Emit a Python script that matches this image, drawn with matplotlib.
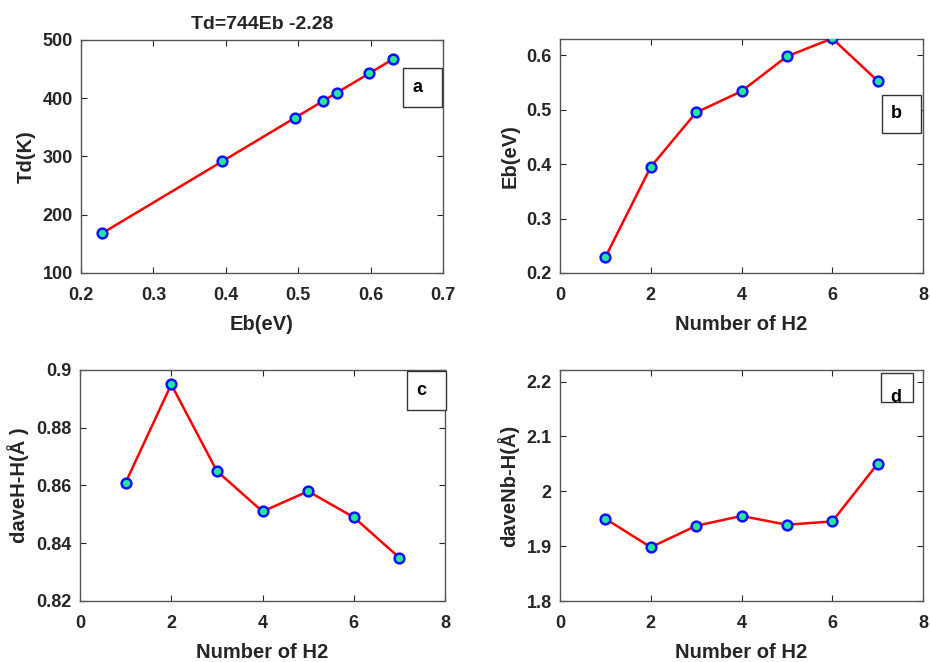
import matplotlib
matplotlib.use("Agg")
import matplotlib.pyplot as plt
from matplotlib.patches import Rectangle

plt.rcParams['font.family'] = ['Liberation Sans', 'DejaVu Sans']
plt.rcParams['font.weight'] = 'bold'

n_h2 = [1, 2, 3, 4, 5, 6, 7]
eb = [0.229, 0.395, 0.495, 0.534, 0.553, 0.598, 0.631]
eb_b = [0.229, 0.395, 0.495, 0.534, 0.598, 0.631, 0.553]
td = [168.1, 291.6, 366.0, 395.0, 409.2, 442.6, 467.2]
d_hh = [0.861, 0.895, 0.865, 0.851, 0.858, 0.849, 0.835]
d_nbh = [1.950, 1.898, 1.937, 1.955, 1.939, 1.945, 2.050]

W, H = 930, 662
fig = plt.figure(figsize=(W / 100, H / 100), dpi=100)
TXT = '#262626'
TICK_FS = 13
LAB_FS = 14.5


def px_axes(l, t, r, b):
    return fig.add_axes([l / W, (H - b) / H, (r - l) / W, (b - t) / H])


def style(ax):
    for s in ax.spines.values():
        s.set_color('#555555')
        s.set_linewidth(1.0)
    ax.tick_params(direction='in', top=True, right=True, length=4,
                   labelsize=TICK_FS, colors=TXT, width=0.8)
    ax.tick_params(axis='x', pad=10)
    ax.tick_params(axis='y', pad=6)
    for lab in ax.get_xticklabels() + ax.get_yticklabels():
        lab.set_fontweight('bold')


def labels(ax, xl, yl):
    ax.set_xlabel(xl, fontsize=LAB_FS, fontweight='bold', color=TXT, labelpad=8)
    ax.set_ylabel(yl, fontsize=LAB_FS, fontweight='bold', color=TXT, labelpad=5)


def plot(ax, x, y):
    ax.plot(x, y, '-', color='red', lw=1.8, marker='o', ms=7,
            mfc='#22E89A', mec='#1010FF', mew=1.8, zorder=3)


def box_label(l, t, r, b, s, ty=None, clip=False):
    rect = Rectangle((l / W, (H - b) / H), (r - l) / W, (b - t) / H,
                     transform=fig.transFigure, fill=True,
                     facecolor='white', edgecolor='#333333', lw=1.0,
                     zorder=5)
    fig.add_artist(rect)
    yy = (t + b) / 2 if ty is None else ty
    txt = fig.text((l + 9) / W, (H - yy) / H, s, fontsize=13, fontweight='bold',
                   color='black', ha='left', va='center', zorder=6)
    if clip:
        txt.set_clip_path(rect)
        txt.set_clip_on(True)


# a
ax = px_axes(81, 40, 443, 273)
plot(ax, eb, td)
ax.set_xlim(0.2, 0.7)
ax.set_ylim(100, 500)
ax.set_xticks([0.2, 0.3, 0.4, 0.5, 0.6, 0.7])
ax.set_yticks([100, 200, 300, 400, 500])
labels(ax, 'Eb(eV)', 'Td(K)')
ax.set_title('Td=744Eb -2.28', fontsize=14, fontweight='bold', color=TXT, pad=8)
style(ax)

# b
ax = px_axes(560, 39, 923, 273)
plot(ax, n_h2, eb_b)
ax.set_xlim(0, 8)
ax.set_ylim(0.2, 0.63)
ax.set_xticks([0, 2, 4, 6, 8])
ax.set_yticks([0.2, 0.3, 0.4, 0.5, 0.6])
labels(ax, 'Number of H2', 'Eb(eV)')
style(ax)

# c
ax = px_axes(80, 370, 445, 601)
plot(ax, n_h2, d_hh)
ax.set_xlim(0, 8)
ax.set_ylim(0.82, 0.9)
ax.set_xticks([0, 2, 4, 6, 8])
ax.set_yticks([0.82, 0.84, 0.86, 0.88, 0.9])
ax.set_yticklabels(['0.82', '0.84', '0.86', '0.88', '0.9'])
labels(ax, 'Number of H2', 'daveH-H(Å )')
style(ax)

# d
ax = px_axes(560, 370, 923, 601)
plot(ax, n_h2, d_nbh)
ax.set_xlim(0, 8)
ax.set_ylim(1.8, 2.221)
ax.set_xticks([0, 2, 4, 6, 8])
ax.set_yticks([1.8, 1.9, 2.0, 2.1, 2.2])
ax.set_yticklabels(['1.8', '1.9', '2', '2.1', '2.2'])
labels(ax, 'Number of H2', 'daveNb-H(Å)')
style(ax)

box_label(403, 68, 442, 107, 'a')
box_label(882, 95, 921, 133, 'b')
box_label(407, 371, 446, 410, 'c')
box_label(881, 373, 913, 402, 'd', ty=398, clip=True)

fig.savefig('out.png', dpi=100)
